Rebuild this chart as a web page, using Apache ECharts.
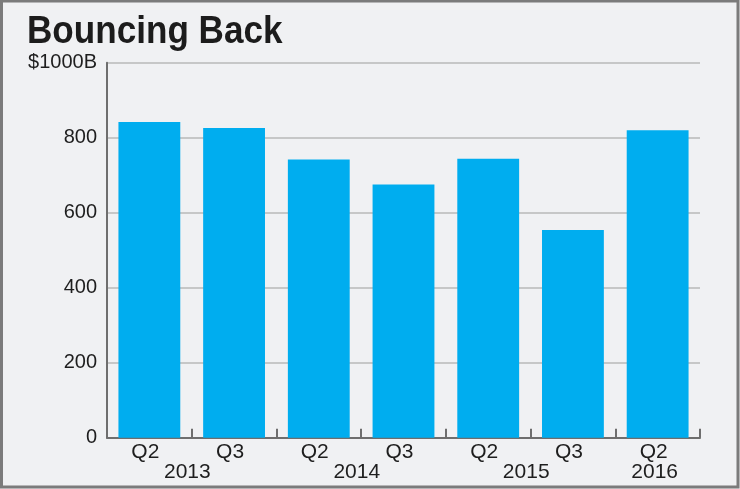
<!DOCTYPE html>
<html>
<head>
<meta charset="utf-8">
<style>
html,body{margin:0;padding:0;background:#f0f1f3;}
#c{width:740px;height:489px;}
</style>
<script src="https://cdn.jsdelivr.net/npm/echarts@6/dist/echarts.min.js"></script>
</head>
<body>
<div id="c"></div>
<script>
const quarters = ['Q2','Q3','Q2','Q3','Q2','Q3','Q2'];
const years = ['2013','','2014','','2015','','2016'];
const values = [842, 826, 742, 675, 744, 554, 820];
const yTickLabels = ['0','200','400','600','800','$1000B'];
const titleText = 'Bouncing Back';

const chart = echarts.init(document.getElementById('c'), null, {renderer:'canvas'});
const axisColor = '#6e6e6e';
const labelFont = '"Liberation Sans", Arial, sans-serif';
chart.setOption({
  backgroundColor: '#f0f1f3',
  animation: false,
  graphic: [{
    type: 'rect', silent: true,
    shape: {x: 1.5, y: 1, width: 736.5, height: 486},
    style: {fill: 'none', stroke: '#7b7b7b', lineWidth: 3}
  }, {
    type: 'text', silent: true,
    x: 27, y: 13, scaleX: 0.9,
    style: {
      text: titleText,
      fontFamily: labelFont, fontWeight: 'bold', fontSize: 39,
      fill: '#1c1c1c', textVerticalAlign: 'top', textAlign: 'left'
    }
  }],
  grid: {left: 107, right: 40, top: 62.7, bottom: 51.3, containLabel: false},
  xAxis: {
    type: 'category',
    data: quarters,
    axisLine: {show: true, lineStyle: {color: axisColor, width: 2}},
    axisTick: {show: true, inside: true, length: 9, lineStyle: {color: axisColor, width: 2}},
    axisLabel: {
      margin: 5,
      interval: 0,
      formatter: function (v, i) {
        const y = years[i];
        if (!y) return '{q|' + v + '}\n{e| }';
        const next = years[i + 1];
        const hasPair = (i + 1 < quarters.length) && next === '';
        return '{q|' + v + '}\n' + (hasPair ? '{yp|' + y + '}' : '{y|' + y + '}');
      },
      rich: {
        q: {fontFamily: labelFont, fontSize: 21, color: '#1e1e1e', lineHeight: 20, padding: [0, 8, 0, 0]},
        y: {fontFamily: labelFont, fontSize: 21, color: '#1e1e1e', lineHeight: 20, padding: [0, 6, 0, 0]},
        yp: {fontFamily: labelFont, fontSize: 21, color: '#1e1e1e', lineHeight: 20, padding: [0, 0, 0, 76]},
        e: {fontSize: 21, lineHeight: 20}
      }
    }
  },
  yAxis: {
    type: 'value',
    min: 0, max: 1000, interval: 200,
    axisLine: {show: true, lineStyle: {color: axisColor, width: 2}},
    axisTick: {show: false},
    splitLine: {show: true, lineStyle: {color: '#b8b8b8', width: 1.5}},
    axisLabel: {
      margin: 10,
      fontFamily: labelFont,
      fontSize: 20,
      color: '#1e1e1e',
      formatter: function (v) { return yTickLabels[Math.round(v / 200)]; }
    }
  },
  series: [{
    type: 'bar',
    data: values,
    barCategoryGap: '27%',
    itemStyle: {color: '#00adef'},
    z: 1
  }]
});
</script>
</body>
</html>
